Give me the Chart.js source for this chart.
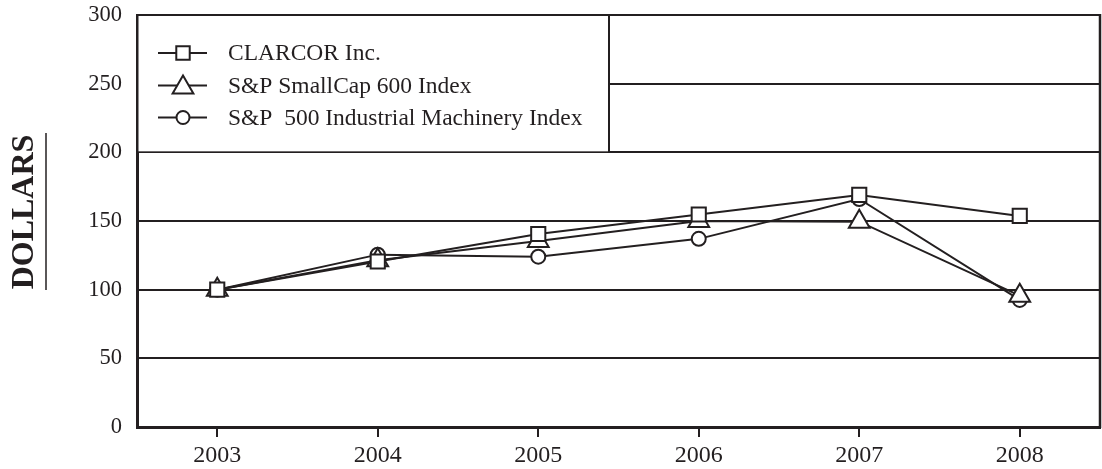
<!DOCTYPE html>
<html>
<head>
<meta charset="utf-8">
<script src="https://cdn.jsdelivr.net/npm/chart.js@4"></script>
<style>
html,body{margin:0;padding:0;background:#fff;}
#wrap{width:1102px;height:469px;}
</style>
</head>
<body>
<div id="wrap"><canvas id="c" width="1102" height="469"></canvas></div>
<script>
const years = ['2003','2004','2005','2006','2007','2008'];
const clarcor = [100, 120.5, 140.5, 154.7, 169, 153.7];
const smallCap = [100, 121.5, 135.5, 150, 149.5, 95.6];
const machinery = [100, 125.5, 124, 137, 166, 92.5];
const yTicks = [0, 50, 100, 150, 200, 250, 300];
const seriesNames = ['CLARCOR Inc.', 'S&P SmallCap 600 Index', 'S&P  500 Industrial Machinery Index'];
const axisTitle = 'DOLLARS';

const INK = '#231f20';
const SERIF = '"Liberation Serif", "Times New Roman", serif';

const styles = [
  {pointStyle:'rect', radius:10},
  {pointStyle:'triangle', radius:12},
  {pointStyle:'circle', radius:7}
];

function mkDs(label, data, st){
  return {
    label, data,
    borderColor: INK, borderWidth: 2,
    backgroundColor: '#fff',
    pointStyle: st.pointStyle, pointRadius: st.radius, pointHoverRadius: st.radius,
    pointBorderColor: INK, pointBackgroundColor: '#fff', pointBorderWidth: 2,
    tension: 0, fill: false
  };
}

const decor = {
  id: 'decor',
  beforeDatasetsDraw(chart){
    const ctx = chart.ctx;
    const a = chart.chartArea;
    const y = chart.scales.y;
    const y200 = y.getPixelForValue(200);
    const boxR = 609;
    ctx.save();
    ctx.fillStyle = '#fff';
    ctx.fillRect(a.left + 1.5, a.top + 1, boxR - a.left - 2.5, y200 - a.top - 2);
    ctx.strokeStyle = INK;
    ctx.lineWidth = 2;
    ctx.beginPath();
    ctx.moveTo(boxR, a.top);
    ctx.lineTo(boxR, y200);
    ctx.stroke();
    ctx.lineWidth = 2.5;
    ctx.beginPath();
    ctx.moveTo(a.right, a.top - 1);
    ctx.lineTo(a.right, a.bottom + 1);
    ctx.stroke();
    const rows = [53, 85.5, 117.5];
    ctx.font = '23.5px ' + SERIF;
    ctx.textBaseline = 'middle';
    ctx.textAlign = 'left';
    seriesNames.forEach((name, i) => {
      const ry = rows[i];
      ctx.strokeStyle = INK; ctx.lineWidth = 2;
      ctx.beginPath(); ctx.moveTo(158, ry); ctx.lineTo(207, ry); ctx.stroke();
      ctx.fillStyle = '#fff';
      Chart.helpers.drawPoint(ctx, {pointStyle: styles[i].pointStyle, radius: i===0 ? 9.5 : (i===1 ? 12 : 6.5), borderWidth: 2}, 183, i===1 ? ry + 2 : ry);
      ctx.fillStyle = INK;
      ctx.fillText(name, 228, ry + 1);
    });
    ctx.restore();
  },
  afterDraw(chart){
    const ctx = chart.ctx;
    ctx.save();
    ctx.fillStyle = INK;
    ctx.translate(25, 212);
    ctx.rotate(-Math.PI/2);
    ctx.font = 'bold 32px ' + SERIF;
    ctx.textAlign = 'center';
    ctx.textBaseline = 'middle';
    ctx.fillText(axisTitle, 0, 0);
    ctx.restore();
    ctx.save();
    ctx.strokeStyle = INK;
    ctx.lineWidth = 1.5;
    ctx.beginPath();
    ctx.moveTo(46, 133);
    ctx.lineTo(46, 290);
    ctx.stroke();
    ctx.restore();
  }
};

new Chart(document.getElementById('c'), {
  type: 'line',
  data: {
    labels: years,
    datasets: [
      mkDs(seriesNames[0], clarcor, styles[0]),
      mkDs(seriesNames[1], smallCap, styles[1]),
      mkDs(seriesNames[2], machinery, styles[2])
    ]
  },
  options: {
    responsive: false,
    animation: false,
    devicePixelRatio: 1,
    layout: {autoPadding: false, padding: {top: 15, right: 2, left: 0, bottom: 0}},
    plugins: {legend: {display: false}, tooltip: {enabled: false}},
    scales: {
      x: {
        type: 'category',
        offset: true,
        grid: {display: true, drawOnChartArea: false, offset: false, drawTicks: true, tickLength: 10, color: INK, lineWidth: 2},
        border: {display: true, color: INK, width: 3},
        ticks: {color: INK, font: {size: 24, family: SERIF}, padding: 4, maxRotation: 0, autoSkip: false},
        afterFit(s){ s.height = 42; }
      },
      y: {
        min: 0, max: 300,
        afterBuildTicks(s){ s.ticks = yTicks.map(v => ({value: v})); },
        grid: {color: INK, lineWidth: 2, drawTicks: true, tickLength: 15, tickColor: 'rgba(0,0,0,0)'},
        border: {display: true, color: INK, width: 3},
        ticks: {color: INK, padding: 0, font: {size: 22.5, family: SERIF}},
        afterFit(s){ s.width = 137; }
      }
    }
  },
  plugins: [decor]
});
</script>
</body>
</html>
